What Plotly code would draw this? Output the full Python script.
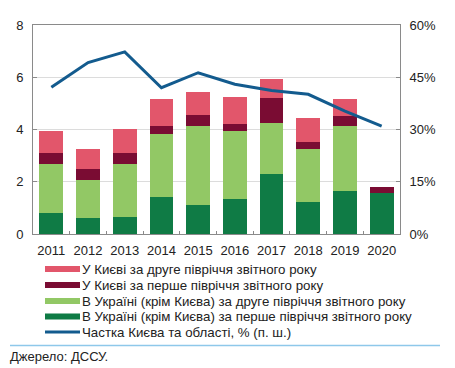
import plotly.graph_objects as go

years = ["2011", "2012", "2013", "2014", "2015", "2016", "2017", "2018", "2019", "2020"]
ukr_h1 = [0.80, 0.60, 0.67, 1.43, 1.12, 1.33, 2.30, 1.24, 1.64, 1.56]
ukr_h2 = [1.88, 1.48, 2.01, 2.39, 3.02, 2.63, 1.96, 2.00, 2.48, 0.00]
kyiv_h1 = [0.42, 0.42, 0.41, 0.31, 0.41, 0.26, 0.95, 0.30, 0.38, 0.24]
kyiv_h2 = [0.83, 0.74, 0.94, 1.04, 0.87, 1.04, 0.74, 0.91, 0.68, 0.00]
kyiv_share = [42.1, 49.2, 52.3, 42.0, 46.3, 43.0, 41.2, 40.1, 35.3, 31.0]

names = [
    "У Києві за друге півріччя звітного року",
    "У Києві за перше півріччя звітного року",
    "В Україні (крім Києва) за друге півріччя звітного року",
    "В Україні (крім Києва) за перше півріччя звітного року",
    "Частка Києва та області, % (п. ш.)",
]
source = "Джерело: ДССУ."

C_PINK = "#e2566b"
C_MAROON = "#7a0c33"
C_LGREEN = "#92c865"
C_DGREEN = "#0f7b45"
C_BLUE = "#135b8e"

W, H = 455, 368
L, R, T, B = 33, 400, 25, 234
FONT = "Liberation Sans, Arial, sans-serif"


def px(x):
    return (x - L) / (R - L)


def py(y):
    return (B - y) / (B - T)


fig = go.Figure()
for vals, col, nm in [
    (ukr_h1, C_DGREEN, names[3]),
    (ukr_h2, C_LGREEN, names[2]),
    (kyiv_h1, C_MAROON, names[1]),
    (kyiv_h2, C_PINK, names[0]),
]:
    fig.add_trace(go.Bar(x=years, y=vals, marker=dict(color=col, line=dict(width=0)),
                         name=nm, showlegend=False))

fig.add_trace(go.Scatter(x=years, y=kyiv_share, yaxis="y2", mode="lines",
                         line=dict(color=C_BLUE, width=3), name=names[4], showlegend=False))

AX = "#8a8a8a"
fig.update_layout(
    width=W, height=H,
    margin=dict(l=L, r=W - R, t=T, b=H - B, pad=0),
    barmode="stack", bargap=0.35,
    plot_bgcolor="white", paper_bgcolor="white",
    font=dict(family=FONT, size=13, color="#222"),
    xaxis=dict(type="category", showline=True, linecolor=AX, linewidth=1, mirror=True,
               ticks="inside", tickson="boundaries", ticklen=3, tickcolor=AX,
               showgrid=False, tickfont=dict(size=13), tickangle=0, ticklabelstandoff=4),
    yaxis=dict(range=[0, 8], dtick=2, showgrid=True, gridcolor="#dcdcdc", gridwidth=1,
               showline=True, linecolor=AX, linewidth=1, ticks="inside", ticklen=4,
               tickcolor=AX, zeroline=False, tickfont=dict(size=13), ticklabelstandoff=6),
    yaxis2=dict(range=[0, 60], dtick=15, ticksuffix="%", overlaying="y", side="right",
                showgrid=False, showline=True, linecolor=AX, linewidth=1, ticks="inside",
                ticklen=4, tickcolor=AX, zeroline=False, tickfont=dict(size=13),
                ticklabelstandoff=6),
    showlegend=False,
)

# custom legend
rows = [269, 285, 301, 316.5, 332]
cols = [C_PINK, C_MAROON, C_LGREEN, C_DGREEN, C_BLUE]
widths = [6, 6, 6, 6, 3]
for nm, yy, col, w in zip(names, rows, cols, widths):
    fig.add_shape(type="line", xref="paper", yref="paper", x0=px(45), x1=px(80),
                  y0=py(yy), y1=py(yy), line=dict(color=col, width=w))
    fig.add_annotation(xref="paper", yref="paper", x=px(79.5), y=py(yy), text=nm,
                       showarrow=False, xanchor="left", yanchor="middle",
                       font=dict(size=13.3, color="#222"))

fig.add_shape(type="line", xref="paper", yref="paper", x0=px(10), x1=px(440),
              y0=py(345.5), y1=py(345.5), line=dict(color="#8ec8ea", width=1.5))
fig.add_annotation(xref="paper", yref="paper", x=px(8), y=py(357), text=source,
                   showarrow=False, xanchor="left", yanchor="middle",
                   font=dict(size=13, color="#222"))

fig.write_html("out.html", config={"displayModeBar": False},
               post_script="document.body.style.margin='0';document.body.style.padding='0';")
